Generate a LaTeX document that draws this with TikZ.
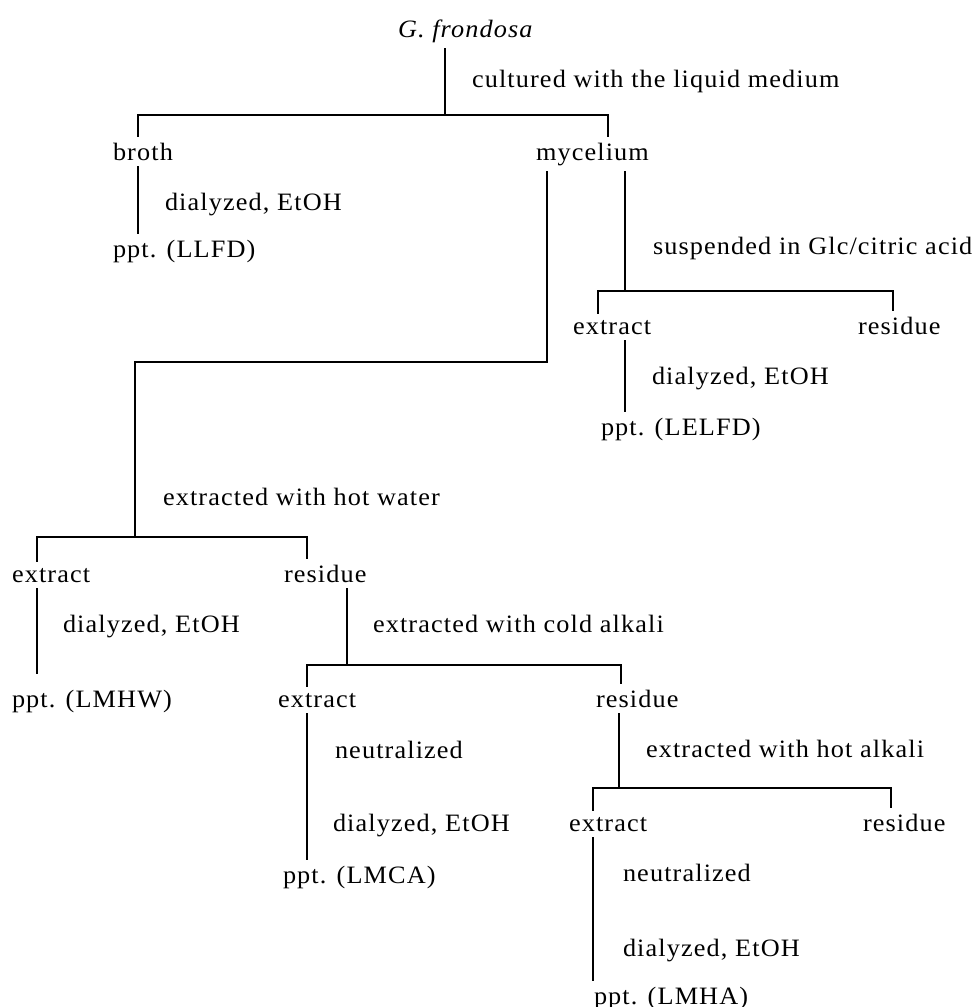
\documentclass[tikz,border=0pt]{standalone}
\usepackage{fontspec}
\setmainfont{Liberation Serif}[LetterSpace=4.5,FakeStretch=1.05]
\usetikzlibrary{positioning,calc}
\tikzset{
  fl/item/.style={
    anchor=base west,
    inner sep=0pt,
    outer xsep=0pt,
    outer ysep=3pt,
    font=\fontsize{12.5}{14}\selectfont
  },
  fl/note/.style={fl/item},
  fl/line/.style={line width=0.9pt, line join=miter}
}

\begin{document}
\begin{tikzpicture}[x=0.5pt, y=-0.5pt]
\useasboundingbox (0,0) rectangle (972,1007);

% --- materials
\node[fl/item] (gf)     at (398,37)   {\itshape G. frondosa};
\node[fl/item] (broth)  at (113,160)  {broth};
\node[fl/item] (myc)    at (536,160)  {mycelium};
\node[fl/item] (pLLFD)  at (113,257)  {ppt. (LLFD)};
\node[fl/item] (gExt)   at (573,334)  {extract};
\node[fl/item] (gRes)   at (858,334)  {residue};
\node[fl/item] (pLELFD) at (601,435)  {ppt. (LELFD)};
\node[fl/item] (wExt)   at (12,582)   {extract};
\node[fl/item] (wRes)   at (284,582)  {residue};
\node[fl/item] (pLMHW)  at (12,707)   {ppt. (LMHW)};
\node[fl/item] (cExt)   at (278,707)  {extract};
\node[fl/item] (cRes)   at (596,707)  {residue};
\node[fl/item] (pLMCA)  at (283,883)  {ppt. (LMCA)};
\node[fl/item] (hExt)   at (569,831)  {extract};
\node[fl/item] (hRes)   at (863,831)  {residue};
\node[fl/item] (pLMHA)  at (594,1004) {ppt. (LMHA)};

% --- treatments
\node[fl/note] (tCult)  at (472,87)  {cultured with the liquid medium};
\node[fl/note] (tDia1)  at (165,210) {dialyzed, EtOH};
\node[fl/note] (tSusp)  at (653,254) {suspended in Glc/citric acid};
\node[fl/note] (tDia2)  at (652,384) {dialyzed, EtOH};
\node[fl/note] (tHotW)  at (163,505) {extracted with hot water};
\node[fl/note] (tDia3)  at (63,632)  {dialyzed, EtOH};
\node[fl/note] (tCold)  at (373,632) {extracted with cold alkali};
\node[fl/note] (tNeu1)  at (335,758) {neutralized};
\node[fl/note] (tDia4)  at (333,831) {dialyzed, EtOH};
\node[fl/note] (tHotA)  at (646,757) {extracted with hot alkali};
\node[fl/note] (tNeu2)  at (623,881) {neutralized};
\node[fl/note] (tDia5)  at (623,956) {dialyzed, EtOH};

% --- forks
\coordinate (b1m) at (445,115); \coordinate (b1l) at (138,115); \coordinate (b1r) at (608,115);
\coordinate (b2m) at (625,291); \coordinate (b2l) at (598,291); \coordinate (b2r) at (893,291);
\coordinate (b3m) at (135,537); \coordinate (b3l) at (37,537);  \coordinate (b3r) at (307,537);
\coordinate (b4m) at (347,665); \coordinate (b4l) at (307,665); \coordinate (b4r) at (621,665);
\coordinate (b5m) at (619,788); \coordinate (b5l) at (593,788); \coordinate (b5r) at (891,788);
\coordinate (k1) at (547,362);
\coordinate (k2) at (135,362);
\coordinate (e1) at (37,674);

% --- lines
\draw[fl/line] (gf.south -| b1m) -- (b1m);
\draw[fl/line] (broth.north -| b1l) |- (b1r) -- (myc.north -| b1r);
\draw[fl/line] (broth.south -| b1l) -- (pLLFD.north -| b1l);
\draw[fl/line] (myc.south -| k1) -- (k1) -- (k2) -- (b3m);
\draw[fl/line] (myc.south -| b2m) -- (b2m);
\draw[fl/line] (gExt.north -| b2l) |- (b2r) -- (gRes.north -| b2r);
\draw[fl/line] (gExt.south -| b2m) -- (pLELFD.north -| b2m);
\draw[fl/line] (wExt.north -| b3l) |- (b3r) -- (wRes.north -| b3r);
\draw[fl/line] (wExt.south -| b3l) -- (e1);
\draw[fl/line] (wRes.south -| b4m) -- (b4m);
\draw[fl/line] (cExt.north -| b4l) |- (b4r) -- (cRes.north -| b4r);
\draw[fl/line] (cExt.south -| b4l) -- (pLMCA.north -| b4l);
\draw[fl/line] (cRes.south -| b5m) -- (b5m);
\draw[fl/line] (hExt.north -| b5l) |- (b5r) -- (hRes.north -| b5r);
\draw[fl/line] (hExt.south -| b5l) -- (pLMHA.north -| b5l);

\end{tikzpicture}
\end{document}
